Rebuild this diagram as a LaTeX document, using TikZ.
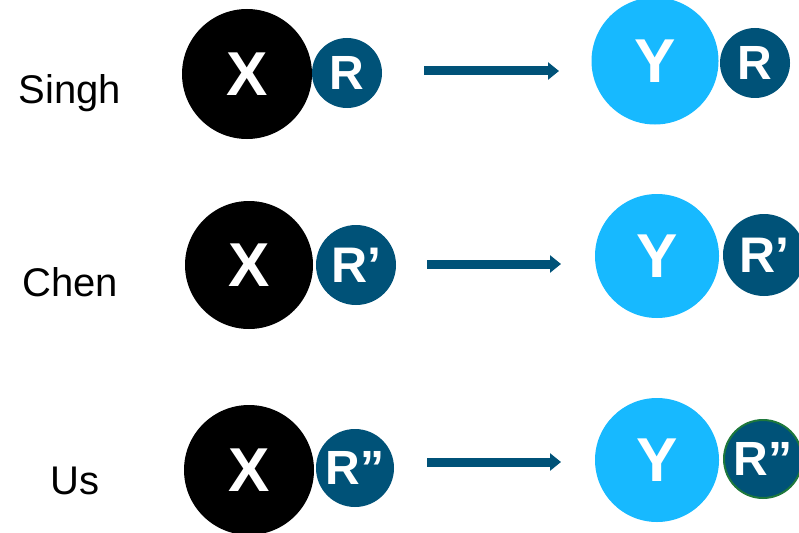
\documentclass[tikz,border=0pt]{standalone}
\usepackage{fontspec}
\setmainfont{Liberation Sans}
\usetikzlibrary{arrows.meta}
\definecolor{inkteal}{RGB}{0,82,120}
\definecolor{skyblue}{RGB}{23,185,255}
\definecolor{rimgreen}{RGB}{30,120,60}
\tikzset{
  bigx/.style={circle, fill=black, inner sep=0pt, text=white,
    font=\fontsize{62}{62}\selectfont\bfseries},
  bigy/.style={circle, fill=skyblue, inner sep=0pt, text=white,
    font=\fontsize{62}{62}\selectfont\bfseries},
  smallr/.style={circle, fill=inkteal, inner sep=0pt, text=white,
    font=\fontsize{48}{48}\selectfont\bfseries},
  rowlabel/.style={inner sep=0pt, anchor=base, font=\fontsize{40}{40}\selectfont},
  flow/.style={draw=inkteal, line width=9pt,
    -{Triangle[length=11pt,width=17pt]}}
}
\begin{document}
\begin{tikzpicture}[x=1pt, y=-1pt]
  \useasboundingbox (0,0) rectangle (799,532);
  \begin{scope}
  \clip (0,0) rectangle (799,532);

  % row labels
  \node[rowlabel] (lsingh) at (70,103) {Singh};
  \node[rowlabel] (lchen)  at (70,296) {Chen};
  \node[rowlabel] (lus)    at (75,494) {Us};

  % first row
  \node[bigx, minimum size=130pt] (x1) at (247,74) {X};
  \node[smallr, minimum size=70pt] (r1) at (347,73) {R};
  \node[bigy, minimum size=127pt] (y1) at (655,61) {Y};
  \node[smallr, minimum size=70pt] (q1) at (755,63) {R};

  % second row
  \node[bigx, minimum size=128pt] (x2) at (249,265) {X};
  \node[smallr, minimum size=80pt, font=\fontsize{50}{50}\selectfont\bfseries] (r2) at (356,265) {R’};
  \node[bigy, minimum size=124pt] (y2) at (657,256) {Y};
  \node[smallr, minimum size=82pt, font=\fontsize{50}{50}\selectfont\bfseries] (q2) at (764,255) {R’};

  % third row
  \node[bigx, minimum size=130pt] (x3) at (249,470) {X};
  \node[smallr, minimum size=78pt] (r3) at (355,468) {R”};
  \node[bigy, minimum size=124pt] (y3) at (657,460) {Y};
  \node[smallr, minimum size=78pt, draw=rimgreen, line width=2pt] (q3) at (763,459) {R”};

  % arrow ends
  \coordinate (s1) at (424,71);  \coordinate (e1) at (559,71);
  \coordinate (s2) at (427,264); \coordinate (e2) at (561,264);
  \coordinate (s3) at (427,462); \coordinate (e3) at (561,462);

  \draw[flow] (s1) -- (e1);
  \draw[flow] (s2) -- (e2);
  \draw[flow] (s3) -- (e3);
  \end{scope}
\end{tikzpicture}
\end{document}
